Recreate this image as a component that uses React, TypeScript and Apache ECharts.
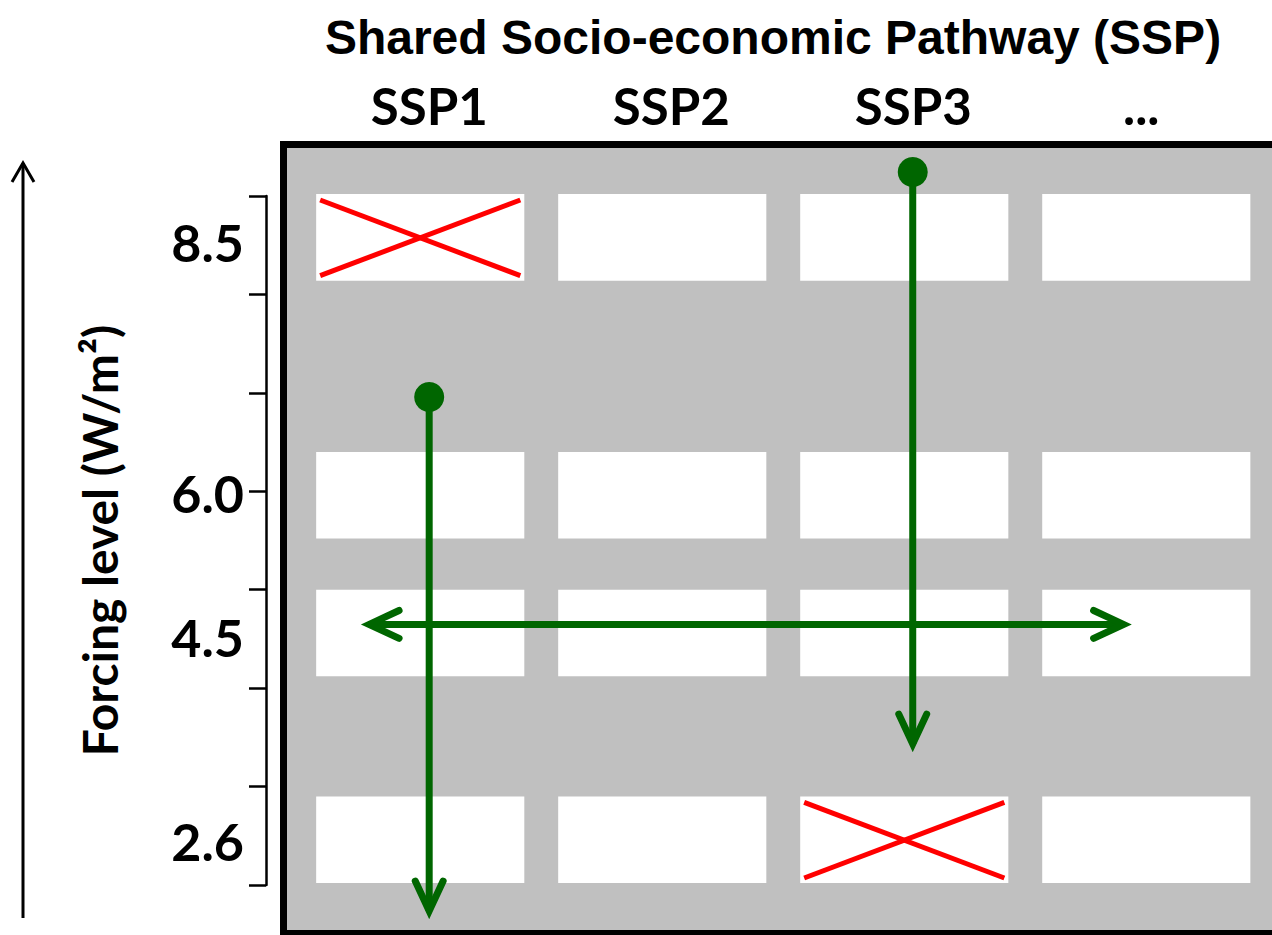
import React, { useEffect, useRef } from "react";
import * as echarts from "echarts";

// ---- data ----
const pathways = ["SSP1", "SSP2", "SSP3", "..."];
const pathwayIndex = [0, 1, 2, 3];
const forcingLabels = ["8.5", "6.0", "4.5", "2.6"];
const forcingLabelPos = [6.53, 3.98, 2.52, 0.45];
const rowBottom = [6.14, 3.52, 2.12, 0.02];
const rowHeight = 0.88;
const cellWidth = 0.86;
// excluded combinations [pathway index, forcing row index]
const excludedCells = [
  [0, 0],
  [2, 3],
];
// arrows: [x0, y0, x1, y1, dotAtStart, headAtStart]
const arrowForcingSSP1 = [0.037, 4.958, 0.037, -0.264, 1, 0];
const arrowForcingSSP3 = [2.035, 7.244, 2.035, 1.432, 1, 0];
const arrowPathways45 = [-0.211, 2.647, 2.906, 2.647, 0, 1];
const tickLevels = [0, 7];

const GREEN = "#006600";

export default function App() {
  const ref = useRef<HTMLDivElement>(null);
  useEffect(() => {
    if (!ref.current) return;
    const chart = echarts.init(ref.current, null, { renderer: "svg" });

    const cellData: number[][] = [];
    pathwayIndex.forEach((c) => forcingLabels.forEach((_, r) => cellData.push([c, r])));

    const cellRect = (api: any, col: number, row: number) => {
      const p0 = api.coord([col - cellWidth / 2, rowBottom[row] + rowHeight]);
      const p1 = api.coord([col + cellWidth / 2, rowBottom[row]]);
      return { x: p0[0], y: p0[1], w: p1[0] - p0[0], h: p1[1] - p0[1] };
    };

    const chevron = (tip: number[], dir: number[]) => {
      const L = 33;
      const ang = (25 * Math.PI) / 180;
      const pts: number[][] = [];
      [ang, -ang].forEach((a) => {
        const dx = dir[0] * Math.cos(a) - dir[1] * Math.sin(a);
        const dy = dir[0] * Math.sin(a) + dir[1] * Math.cos(a);
        pts.push([tip[0] - dx * L, tip[1] - dy * L]);
      });
      return {
        type: "polyline",
        shape: { points: [pts[0], tip, pts[1]] },
        style: { stroke: GREEN, lineWidth: 7, fill: "none", lineCap: "round", lineJoin: "miter" },
      };
    };

    const option: any = {
      animation: false,
      title: {
        text: "Shared Socio-economic Pathway (SSP)",
        left: 768,
        top: 8,
        textAlign: "center",
        textStyle: {
          fontFamily: "Liberation Sans",
          fontWeight: "bold",
          fontSize: 48,
          color: "#000",
        },
      },
      grid: [
        {
          left: 283.5,
          top: 144.5,
          width: 1000,
          bottom: 1.5,
          outerBoundsMode: "none",
          containLabel: false,
          show: true,
          backgroundColor: "#c0c0c0",
          borderColor: "#000",
          borderWidth: 7,
        },
        { left: 266, top: 196, bottom: 50, width: 1, show: false, outerBoundsMode: "none", containLabel: false },
      ],
      xAxis: [
        {
          gridIndex: 0,
          type: "value",
          min: -0.565,
          max: 3.567,
          position: "top",
          axisLine: { show: false },
          axisTick: { show: false },
          splitLine: { show: false },
          axisLabel: {
            customValues: pathwayIndex,
            formatter: (v: number) => {
              const t = pathways[Math.round(v)];
              return t === "..." ? "{e|" + t + "}" : t;
            },
            rich: {
              e: {
                fontFamily: "Lato",
                fontWeight: "bold",
                fontSize: 51,
                color: "#000",
                padding: [0, 28, 0, 0],
              },
            },
            fontFamily: "Lato",
            fontWeight: "bold",
            fontSize: 51,
            color: "#000",
            margin: 14,
            padding: [0, 0, 0, 18],
          },
        },
        { gridIndex: 1, type: "value", show: false },
      ],
      yAxis: [
        { gridIndex: 0, type: "value", min: -0.493, max: 7.523, show: false },
        {
          gridIndex: 1,
          type: "value",
          min: tickLevels[0],
          max: tickLevels[1],
          interval: 1,
          axisLine: { show: true, lineStyle: { color: "#000", width: 2.5 } },
          axisTick: { show: true, length: 17, lineStyle: { color: "#000", width: 2.5 } },
          splitLine: { show: false },
          axisLabel: {
            customValues: forcingLabelPos,
            formatter: (v: number) => {
              const i = forcingLabelPos.findIndex((p) => Math.abs(p - v) < 1e-6);
              return i >= 0 ? forcingLabels[i] : "";
            },
            fontFamily: "Lato",
            fontWeight: "bold",
            fontSize: 52,
            color: "#000",
            margin: 22,
          },
          name: "Forcing level (W/m²)",
          nameLocation: "middle",
          nameRotate: 90,
          nameGap: 143,
          nameTextStyle: {
            fontFamily: "Lato",
            fontWeight: "bold",
            fontSize: 48,
            color: "#000",
          },
        },
      ],
      graphic: [
        {
          type: "polyline",
          shape: { points: [[23, 918], [23, 163]] },
          style: { stroke: "#000", lineWidth: 3, fill: "none" },
        },
        {
          type: "polyline",
          shape: { points: [[12, 182], [23, 163], [34, 182]] },
          style: { stroke: "#000", lineWidth: 3, fill: "none" },
        },
      ],
      series: [
        {
          type: "custom",
          xAxisIndex: 0,
          yAxisIndex: 0,
          data: cellData,
          renderItem: (params: any, api: any) => {
            const r = cellRect(api, api.value(0), api.value(1));
            return {
              type: "rect",
              shape: { x: r.x, y: r.y, width: r.w, height: r.h },
              style: { fill: "#ffffff" },
            };
          },
          z: 2,
        },
        {
          type: "custom",
          xAxisIndex: 0,
          yAxisIndex: 0,
          data: excludedCells,
          renderItem: (params: any, api: any) => {
            const r = cellRect(api, api.value(0), api.value(1));
            const ins = 4;
            const x0 = r.x + ins, x1 = r.x + r.w - ins;
            const y0 = r.y + ins + 2, y1 = r.y + r.h - ins - 1;
            const st = { stroke: "#ff0000", lineWidth: 5 };
            return {
              type: "group",
              children: [
                { type: "line", shape: { x1: x0, y1: y0, x2: x1, y2: y1 }, style: st },
                { type: "line", shape: { x1: x0, y1: y1, x2: x1, y2: y0 }, style: st },
              ],
            };
          },
          z: 3,
        },
        {
          type: "custom",
          xAxisIndex: 0,
          yAxisIndex: 0,
          clip: false,
          data: [arrowForcingSSP1, arrowForcingSSP3, arrowPathways45],
          renderItem: (params: any, api: any) => {
            const p0 = api.coord([api.value(0), api.value(1)]);
            const p1 = api.coord([api.value(2), api.value(3)]);
            const dx = p1[0] - p0[0], dy = p1[1] - p0[1];
            const len = Math.sqrt(dx * dx + dy * dy);
            const d = [dx / len, dy / len];
            const children: any[] = [
              {
                type: "line",
                shape: { x1: p0[0], y1: p0[1], x2: p1[0], y2: p1[1] },
                style: { stroke: GREEN, lineWidth: 7 },
              },
              chevron(p1, d),
            ];
            if (api.value(5)) children.push(chevron(p0, [-d[0], -d[1]]));
            if (api.value(4)) {
              children.push({
                type: "circle",
                shape: { cx: p0[0], cy: p0[1], r: 15 },
                style: { fill: GREEN },
              });
            }
            return { type: "group", children };
          },
          z: 4,
        },
      ],
    };
    chart.setOption(option);
    return () => chart.dispose();
  }, []);
  return (
    <div
      ref={ref}
      style={{ position: "absolute", left: 0, top: 0, width: 1272, height: 935, background: "#fff", overflow: "hidden" }}
    />
  );
}
